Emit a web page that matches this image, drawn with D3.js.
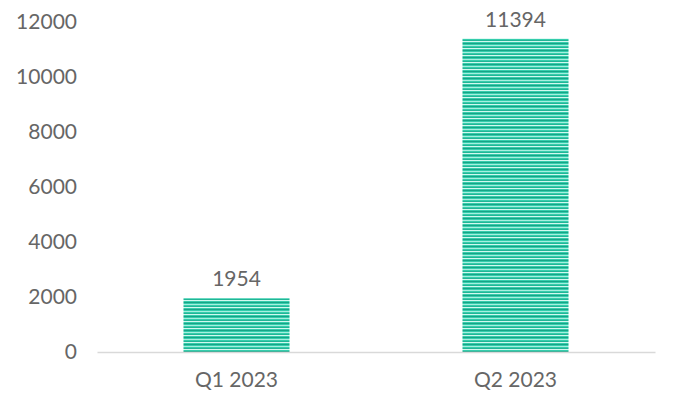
<!DOCTYPE html>
<html>
<head>
<meta charset="utf-8">
<script src="https://cdn.jsdelivr.net/npm/d3@7"></script>
<style>
  body { margin: 0; background: #fff; }
  text { font-family: "Lato", "Open Sans", sans-serif; fill: #666; }
</style>
</head>
<body>
<div id="chart"></div>
<script>
var categories = ["Q1 2023", "Q2 2023"];
var values = [1954, 11394];
var yTicks = [0, 2000, 4000, 6000, 8000, 10000, 12000];

var svgWidth = 677;
var svgHeight = 407;
var margin = { top: 22, right: 22, bottom: 55, left: 97 };
var width = svgWidth - margin.left - margin.right;
var height = svgHeight - margin.top - margin.bottom;

var svg = d3.select("#chart")
  .append("svg")
  .attr("width", svgWidth)
  .attr("height", svgHeight);

// striped fill for the bars
var pattern = svg.append("defs")
  .append("pattern")
  .attr("id", "stripes")
  .attr("patternUnits", "userSpaceOnUse")
  .attr("width", 8)
  .attr("height", 7);

pattern.append("rect").attr("width", 8).attr("height", 7).attr("fill", "#35cdac");
pattern.append("rect").attr("y", 0).attr("width", 8).attr("height", 1).attr("fill", "#16a487");
pattern.append("rect").attr("y", 2).attr("width", 8).attr("height", 1).attr("fill", "#a6efdf");
pattern.append("rect").attr("y", 4).attr("width", 8).attr("height", 1).attr("fill", "#22b596");
pattern.append("rect").attr("y", 5).attr("width", 8).attr("height", 1).attr("fill", "#d2f8ef");

var chartGroup = svg.append("g")
  .attr("transform", `translate(${margin.left}, ${margin.top})`);

var xScale = d3.scaleBand()
  .domain(categories)
  .range([0, width])
  .paddingInner(0.62)
  .paddingOuter(0.31);

var yScale = d3.scaleLinear()
  .domain([0, 12000])
  .range([height, 0]);

// y axis labels only
var leftAxis = d3.axisLeft(yScale)
  .tickValues(yTicks)
  .tickFormat(d3.format("d"))
  .tickSize(0)
  .tickPadding(20);

var yAxis = chartGroup.append("g").call(leftAxis);
yAxis.select(".domain").remove();
yAxis.selectAll("text")
  .attr("font-size", "21px")
  .attr("font-family", "Lato, sans-serif")
  .attr("fill", "#666");

// bars
chartGroup.selectAll(".bar")
  .data(values)
  .enter()
  .append("rect")
  .attr("class", "bar")
  .attr("x", (d, i) => xScale(categories[i]))
  .attr("y", d => yScale(d))
  .attr("width", xScale.bandwidth())
  .attr("height", d => height - yScale(d))
  .attr("fill", "url(#stripes)");

// value labels
chartGroup.selectAll(".label")
  .data(values)
  .enter()
  .append("text")
  .attr("class", "label")
  .attr("x", (d, i) => xScale(categories[i]) + xScale.bandwidth() / 2)
  .attr("y", d => yScale(d) - 12)
  .attr("text-anchor", "middle")
  .attr("font-size", "21px")
  .text(d => d);

// x axis
var bottomAxis = d3.axisBottom(xScale).tickSize(0).tickPadding(20);
var xAxis = chartGroup.append("g")
  .attr("transform", `translate(0, ${height})`)
  .call(bottomAxis);
xAxis.select(".domain")
  .attr("stroke", "#d9d9d9")
  .attr("stroke-width", 1.5);
xAxis.selectAll("text")
  .attr("font-size", "21px")
  .attr("font-family", "Lato, sans-serif")
  .attr("fill", "#666");
</script>
</body>
</html>
